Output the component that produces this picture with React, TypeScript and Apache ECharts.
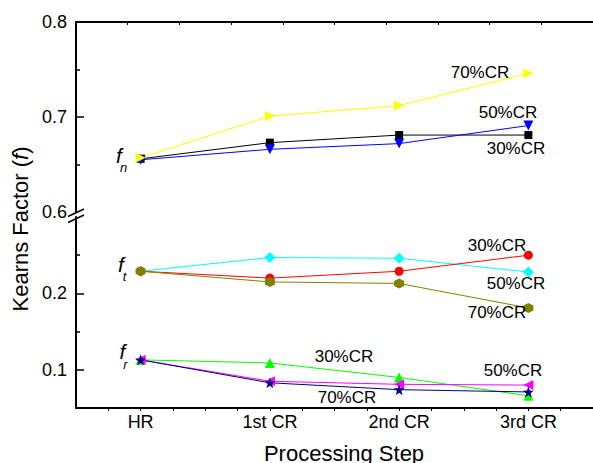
import React, { useEffect, useRef } from "react";
import * as echarts from "echarts";

const categories = ["HR", "1st CR", "2nd CR", "3rd CR"];
const xPositions = [1, 2, 3, 4];

const fn30 = [0.656, 0.673, 0.681, 0.681];
const fn50 = [0.655, 0.666, 0.672, 0.691];
const fn70 = [0.657, 0.701, 0.712, 0.746];

const ft50 = [0.229, 0.247, 0.246, 0.228];
const ft30 = [0.229, 0.22, 0.229, 0.25];
const ft70 = [0.229, 0.215, 0.213, 0.181];

const fr30 = [0.113, 0.109, 0.09, 0.066];
const fr50 = [0.113, 0.085, 0.081, 0.08];
const fr70 = [0.113, 0.083, 0.074, 0.071];

const upperLabels = [0.6, 0.7, 0.8];
const upperMajorTicks = [0.7];
const upperMinorTicks = [0.65, 0.75];
const lowerLabels = [0.1, 0.2];
const lowerMajorTicks = [0.1, 0.2];
const lowerMinorTicks = [0.15, 0.25];
const xTicks = [0.75, 1, 1.25, 1.5, 1.75, 2, 2.25, 2.5, 2.75, 3, 3.25, 3.5, 3.75, 4, 4.25];

const FONT = "Liberation Sans, Arial, sans-serif";

const HEX = "path://M0,-10 L8.66,-5 L8.66,5 L0,10 L-8.66,5 L-8.66,-5 Z";
const STAR =
  "path://M0,-10 L2.35,-3.24 L9.51,-3.09 L3.8,1.24 L5.88,8.09 L0,4 L-5.88,8.09 L-3.8,1.24 L-9.51,-3.09 L-2.35,-3.24 Z";

function pts(vals: number[]) {
  return vals.map((v, i) => [xPositions[i], v]);
}

function mk(
  name: string,
  vals: number[],
  color: string,
  symbol: string,
  size: number,
  rotate: number,
  grid: number
) {
  return {
    name,
    type: "line",
    xAxisIndex: grid === 0 ? 0 : 2,
    yAxisIndex: grid === 0 ? 0 : 2,
    data: pts(vals),
    symbol,
    symbolSize: size,
    symbolRotate: rotate,
    showAllSymbol: true,
    lineStyle: { color, width: 1 },
    itemStyle: { color, borderWidth: 0 },
    emphasis: { disabled: true },
  };
}

export default function App() {
  const ref = useRef<HTMLDivElement>(null);
  useEffect(() => {
    if (!ref.current) return;
    const chart = echarts.init(ref.current, undefined, { renderer: "svg" });

    const annotations = [
      { text: "70%CR", x: 480, y: 72 },
      { text: "50%CR", x: 508, y: 112 },
      { text: "30%CR", x: 516, y: 148 },
      { text: "30%CR", x: 497, y: 245 },
      { text: "50%CR", x: 516, y: 283 },
      { text: "70%CR", x: 497, y: 312 },
      { text: "30%CR", x: 344, y: 356 },
      { text: "50%CR", x: 513, y: 370 },
      { text: "70%CR", x: 347, y: 397 },
    ];
    const fLabels = [
      { sub: "n", x: 119, y: 155, sx: 123.5, sy: 167.5 },
      { sub: "t", x: 121, y: 264.5, sx: 124.5, sy: 276.5 },
      { sub: "r", x: 122.5, y: 351.5, sx: 125.5, sy: 364 },
    ];

    const graphic: any[] = [];
    annotations.forEach((a) =>
      graphic.push({
        type: "text",
        x: a.x,
        y: a.y,
        z: 100,
        style: {
          text: a.text,
          fill: "#000",
          font: `17px ${FONT}`,
          align: "center",
          verticalAlign: "middle",
        },
      })
    );
    fLabels.forEach((f) => {
      graphic.push({
        type: "text",
        x: f.x,
        y: f.y,
        z: 100,
        style: {
          text: "f",
          fill: "#000",
          font: `italic 21px ${FONT}`,
          align: "center",
          verticalAlign: "middle",
        },
      });
      graphic.push({
        type: "text",
        x: f.sx,
        y: f.sy,
        z: 100,
        style: {
          text: f.sub,
          fill: "#000",
          font: `italic 13px ${FONT}`,
          align: "center",
          verticalAlign: "middle",
        },
      });
    });
    graphic.push({
      type: "text",
      x: 20,
      y: 229,
      rotation: Math.PI / 2,
      z: 100,
      style: {
        text: "Kearns Factor ({i|f})",
        fill: "#000",
        font: `22px ${FONT}`,
        align: "center",
        verticalAlign: "middle",
        rich: {
          i: { fontStyle: "italic", fontSize: 22, fontFamily: FONT, fill: "#000" } as any,
        },
      },
    });
    graphic.push({
      type: "text",
      x: 344,
      y: 453,
      z: 100,
      style: {
        text: "Processing Step",
        fill: "#000",
        font: `22px ${FONT}`,
        align: "center",
        verticalAlign: "middle",
      },
    });
    graphic.push({
      type: "line",
      z: 100,
      shape: { x1: 68, y1: 216.5, x2: 84, y2: 209 },
      style: { stroke: "#000", lineWidth: 1.5 },
    });
    graphic.push({
      type: "line",
      z: 100,
      shape: { x1: 68, y1: 222.5, x2: 84, y2: 215 },
      style: { stroke: "#000", lineWidth: 1.5 },
    });

    const yBase = (grid: number, min: number, max: number) => ({
      type: "value",
      gridIndex: grid,
      min,
      max,
      position: "left",
      offset: 0,
      splitLine: { show: false },
    });

    chart.setOption({
      animation: false,
      backgroundColor: "#fff",
      textStyle: { fontFamily: FONT },
      grid: [
        { left: 76, top: 22, width: 520, height: 190 },
        { left: 76, top: 217, width: 520, height: 191 },
      ],
      xAxis: [
        { type: "value", gridIndex: 0, min: 0.5, max: 4.5, show: false },
        {
          type: "value",
          gridIndex: 0,
          position: "top",
          min: 0,
          max: 10,
          interval: 1,
          axisLine: { show: true, lineStyle: { color: "#000", width: 2 } },
          axisTick: { show: true, inside: true, length: 3, lineStyle: { color: "#000" } },
          axisLabel: { show: false },
          splitLine: { show: false },
        },
        {
          type: "value",
          gridIndex: 1,
          position: "bottom",
          min: 0.5,
          max: 4.5,
          axisLine: { show: true, onZero: false, lineStyle: { color: "#000", width: 2 } },
          axisTick: {
            show: true,
            inside: false,
            length: 3,
            customValues: xTicks,
            lineStyle: { color: "#000" },
          },
          axisLabel: {
            show: true,
            customValues: xPositions,
            formatter: (v: number) => categories[Math.round(v) - 1] ?? "",
            color: "#000",
            fontSize: 18,
            fontFamily: FONT,
            margin: 5,
          },
          splitLine: { show: false },
        },
      ],
      yAxis: [
        {
          ...yBase(0, 0.6, 0.8),
          axisLine: { show: true, lineStyle: { color: "#000", width: 2 } },
          axisTick: {
            show: true,
            inside: true,
            length: 8,
            customValues: upperMajorTicks,
            lineStyle: { color: "#000", width: 1.5 },
          },
          axisLabel: {
            show: true,
            customValues: upperLabels,
            formatter: (v: number) => v.toFixed(1),
            color: "#000",
            fontSize: 18,
            fontFamily: FONT,
            margin: 9,
          },
        },
        {
          ...yBase(0, 0.6, 0.8),
          axisLine: { show: false },
          axisTick: {
            show: true,
            inside: true,
            length: 4,
            customValues: upperMinorTicks,
            lineStyle: { color: "#000", width: 1.5 },
          },
          axisLabel: { show: false },
        },
        {
          ...yBase(1, 0.05, 0.3),
          axisLine: { show: true, lineStyle: { color: "#000", width: 2 } },
          axisTick: {
            show: true,
            inside: true,
            length: 8,
            customValues: lowerMajorTicks,
            lineStyle: { color: "#000", width: 1.5 },
          },
          axisLabel: {
            show: true,
            customValues: lowerLabels,
            formatter: (v: number) => v.toFixed(1),
            color: "#000",
            fontSize: 18,
            fontFamily: FONT,
            margin: 9,
          },
        },
        {
          ...yBase(1, 0.05, 0.3),
          axisLine: { show: false },
          axisTick: {
            show: true,
            inside: true,
            length: 4,
            customValues: lowerMinorTicks,
            lineStyle: { color: "#000", width: 1.5 },
          },
          axisLabel: { show: false },
        },
      ],
      graphic,
      series: [
        mk("fn 30%CR", fn30, "#000000", "rect", 8, 0, 0),
        mk("fn 50%CR", fn50, "#0000ff", "triangle", 10, 180, 0),
        mk("fn 70%CR", fn70, "#ffff00", "triangle", 10, -90, 0),
        mk("ft 50%CR", ft50, "#00ffff", "diamond", 11, 0, 1),
        mk("ft 30%CR", ft30, "#ff0000", "circle", 9, 0, 1),
        mk("ft 70%CR", ft70, "#808000", HEX, 10, 0, 1),
        mk("fr 30%CR", fr30, "#00ff00", "triangle", 10, 0, 1),
        mk("fr 50%CR", fr50, "#ff00ff", "triangle", 10, 90, 1),
        mk("fr 70%CR", fr70, "#000080", STAR, 11, 0, 1),
      ],
    });
    return () => chart.dispose();
  }, []);
  return (
    <div
      ref={ref}
      style={{ position: "fixed", left: 0, top: 0, width: 593, height: 463, background: "#fff" }}
    />
  );
}
